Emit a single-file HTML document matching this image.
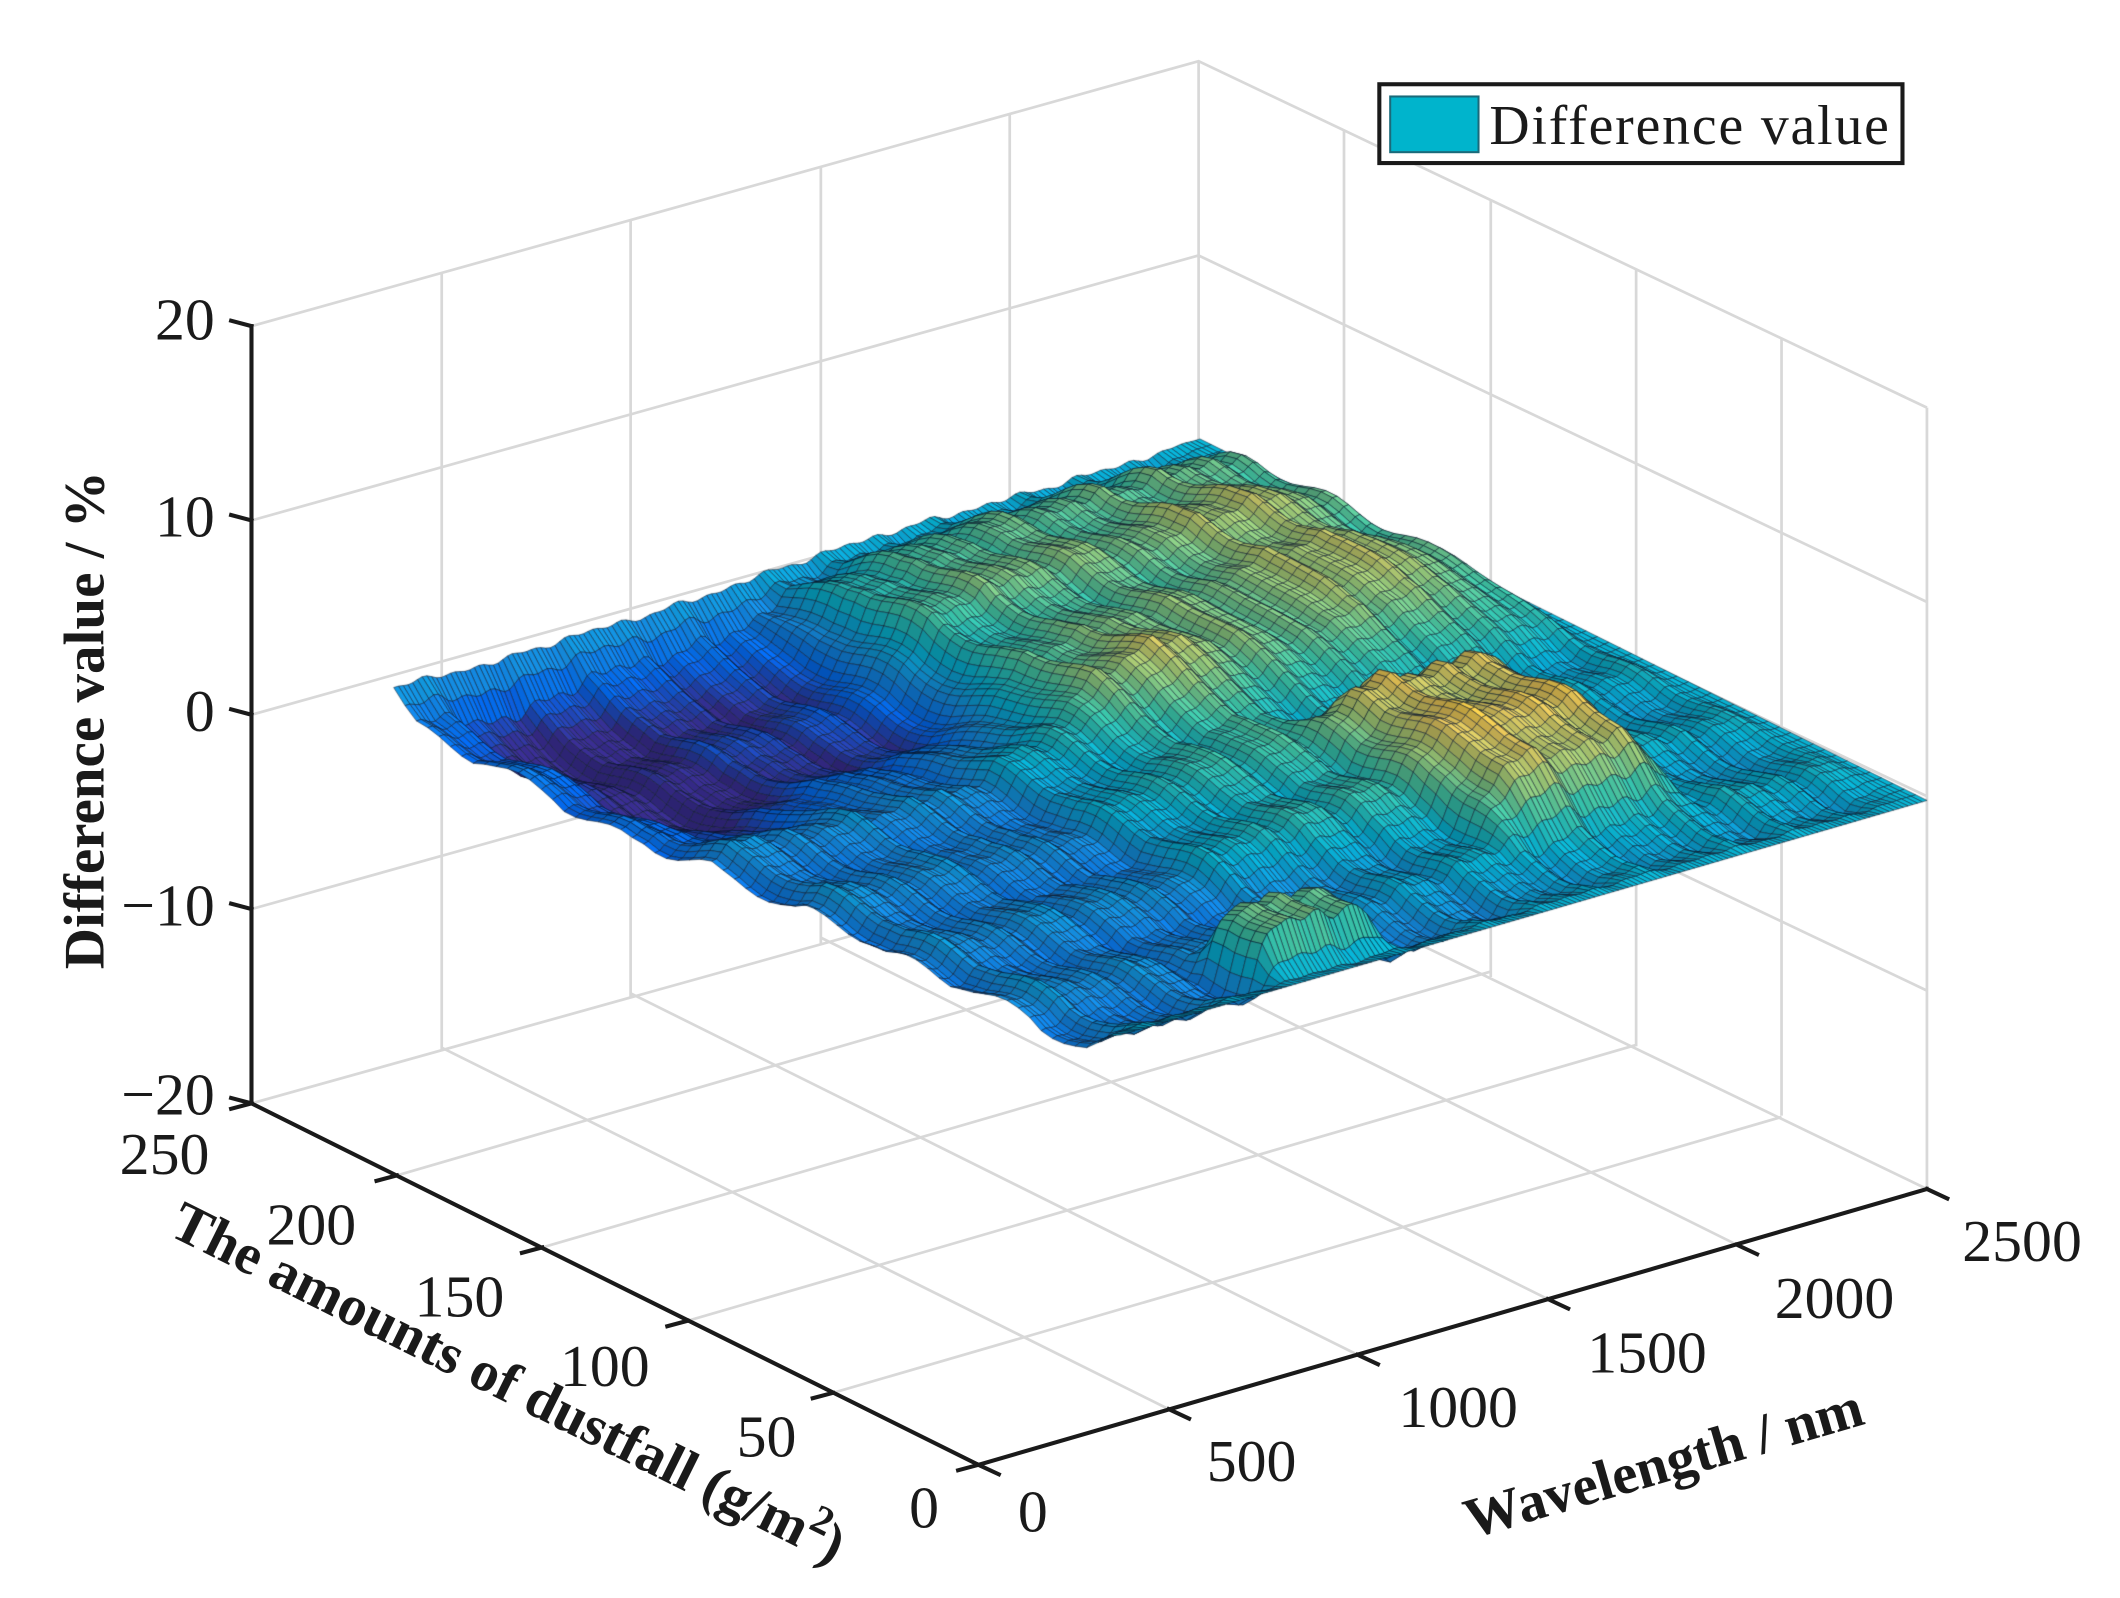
<!DOCTYPE html>
<html><head><meta charset="utf-8">
<style>
html,body{margin:0;padding:0;background:#fff;}
#wrap{position:relative;width:2120px;height:1598px;overflow:hidden;background:#fff;}
svg,canvas{position:absolute;left:0;top:0;}
text{font-family:"Liberation Serif",serif;fill:#1a1a1a;}
</style></head><body>
<div id="wrap">
<svg width="2120" height="1598" viewBox="0 0 1560 1176">
<g stroke="#d8d8d8" stroke-width="2" fill="none">
  <polyline points="185,240 882,45 1418,300"/>
  <line x1="882" y1="45" x2="882" y2="617"/>
  <line x1="1418" y1="300" x2="1418" y2="875"/>
  <polyline points="185,812 883,617 1418,875"/>
  <line x1="325" y1="201" x2="325" y2="773"/>
  <line x1="464" y1="162" x2="464" y2="734"/>
  <line x1="604" y1="123" x2="604" y2="695"/>
  <line x1="743" y1="84" x2="743" y2="656"/>
  <line x1="185" y1="383" x2="882" y2="188"/>
  <line x1="185" y1="526" x2="882" y2="331"/>
  <line x1="185" y1="669" x2="882" y2="474"/>
  <line x1="989" y1="96" x2="989" y2="668"/>
  <line x1="1097" y1="147" x2="1097" y2="719"/>
  <line x1="1204" y1="198" x2="1204" y2="770"/>
  <line x1="1311" y1="249" x2="1311" y2="821"/>
  <line x1="882" y1="188" x2="1418" y2="443"/>
  <line x1="882" y1="331" x2="1418" y2="586"/>
  <line x1="882" y1="474" x2="1418" y2="729"/>
  <line x1="860" y1="1037" x2="325" y2="771"/>
  <line x1="999" y1="997" x2="464" y2="731"/>
  <line x1="1139" y1="956" x2="604" y2="690"/>
  <line x1="1278" y1="916" x2="743" y2="650"/>
  <line x1="613" y1="1025" x2="1311" y2="822"/>
  <line x1="506" y1="972" x2="1204" y2="769"/>
  <line x1="399" y1="918" x2="1097" y2="715"/>
  <line x1="292" y1="865" x2="990" y2="662"/>
</g>
</svg>
<canvas id="c" width="2120" height="1598"></canvas>
<svg width="2120" height="1598" viewBox="0 0 1560 1176">
<g stroke="#1a1a1a" stroke-width="3" fill="none" stroke-linecap="square">
  <polyline points="185,240 185,812 720,1078 1418,875"/>
  <line x1="185" y1="240" x2="170" y2="236"/>
  <line x1="185" y1="383" x2="170" y2="379"/>
  <line x1="185" y1="526" x2="170" y2="522"/>
  <line x1="185" y1="669" x2="170" y2="665"/>
  <line x1="185" y1="812" x2="170" y2="808"/>
  <line x1="185" y1="812" x2="170" y2="816"/>
  <line x1="292" y1="865" x2="277" y2="869"/>
  <line x1="399" y1="918" x2="384" y2="922"/>
  <line x1="506" y1="972" x2="491" y2="976"/>
  <line x1="613" y1="1025" x2="598" y2="1029"/>
  <line x1="720" y1="1078" x2="705" y2="1082"/>
  <line x1="720" y1="1078" x2="735" y2="1085"/>
  <line x1="860" y1="1037" x2="875" y2="1044"/>
  <line x1="999" y1="997" x2="1014" y2="1004"/>
  <line x1="1139" y1="956" x2="1154" y2="963"/>
  <line x1="1278" y1="916" x2="1293" y2="923"/>
  <line x1="1418" y1="875" x2="1433" y2="882"/>
</g>
<g font-size="44" text-anchor="end">
  <text x="158" y="250">20</text>
  <text x="158" y="395">10</text>
  <text x="158" y="538">0</text>
  <text x="158" y="681">−10</text>
  <text x="158" y="820">−20</text>
</g>
<g font-size="44" text-anchor="middle">
  <text x="121" y="864">250</text>
  <text x="229" y="916">200</text>
  <text x="338" y="969">150</text>
  <text x="445" y="1020">100</text>
  <text x="564" y="1072">50</text>
  <text x="680" y="1124">0</text>
  <text x="760" y="1127">0</text>
  <text x="921" y="1090">500</text>
  <text x="1073" y="1050">1000</text>
  <text x="1212" y="1010">1500</text>
  <text x="1350" y="970">2000</text>
  <text x="1488" y="928">2500</text>
</g>
<text x="0" y="0" font-size="42" font-weight="bold" text-anchor="middle" transform="translate(76,530) rotate(-90)">Difference value / %</text>
<text x="0" y="0" font-size="42" font-weight="bold" text-anchor="middle" transform="translate(368,1030) rotate(26.4)">The amounts of dustfall (g/m<tspan font-size="30" dy="-16">2</tspan><tspan dy="16">)</tspan></text>
<text x="0" y="0" font-size="42" font-weight="bold" text-anchor="middle" transform="translate(1228,1090) rotate(-16.2)">Wavelength / nm</text>
<rect x="1015" y="62" width="385" height="58" fill="#fff" stroke="#1a1a1a" stroke-width="3"/>
<rect x="1023" y="71" width="65" height="41" fill="#00b4cc" stroke="#1a6a7a" stroke-width="1.5"/>
<text x="1096" y="106" font-size="41" textLength="294">Difference value</text>
</svg>
</div>
<script>
(function(){
var cv=document.getElementById('c'),ctx=cv.getContext('2d');
var S=2120/1560;ctx.setTransform(S,0,0,S,0,0);
function ss(e0,e1,x){var t=Math.max(0,Math.min(1,(x-e0)/(e1-e0)));return t*t*(3-2*t);}
function box(x,lo,hi,s){s=s||0.05;return ss(lo-s,lo+s,x)*(1-ss(hi-s,hi+s,x));}
function Z(a,b){
 var z=-1.4+1.2*ss(0.4,0.7,a);
 z+=-2.0*box(a,0.2,0.52,0.06)*box(b,0.66,0.97,0.05);
 z+=-1.0*box(a,0.15,0.3,0.04)*box(b,0.6,1.0,0.05);
 z+=3.6*box(a,0.66,0.84,0.03)*box(b,0.14,0.4,0.04);
 z+=3.4*box(a,0.33,0.45,0.02)*box(b,0.03,0.12,0.02);
 z+=2.0*box(a,0.52,0.98,0.04)*box(b,0.55,0.93,0.06);
 z+=1.3*box(a,0.44,0.66,0.05)*box(b,0.22,0.6,0.06);
 z+=1.0*box(a,0.56,0.98,0.05)*box(b,0.45,0.6,0.05);
 z+=0.8*box(a,0.8,0.92,0.03)*box(b,0.55,0.85,0.05);
 z+=0.35*Math.sin(a*95)*Math.sin(a*23+1)+0.3*Math.sin(b*47+a*3)+0.2*Math.sin(a*211+b*7);
 z+=0.3*(Math.floor(b*9)%2?0.4:-0.2)*Math.sin(a*13);
 z*=ss(0,0.05,b);
 z*=1-ss(0.96,1.0,a);
 z*=1-0.6*ss(0.97,1.0,b);
 return z;
}
var P=[[0,53,42,135],[0.125,3,99,225],[0.25,20,133,212],[0.375,6,167,198],[0.5,56,185,158],[0.625,146,191,115],[0.75,217,186,86],[0.875,252,206,46],[1,249,251,14]];
function cmap(t){t=Math.max(0,Math.min(1,t));for(var i=1;i<P.length;i++){if(t<=P[i][0]){var p=P[i-1],q=P[i],f=(t-p[0])/(q[0]-p[0]);return [p[1]+(q[1]-p[1])*f,p[2]+(q[2]-p[2])*f,p[3]+(q[3]-p[3])*f];}}return [249,251,14];}
function proj(a,b,z){return [720+698*a-535*b,1078-203*a-266*b-14.3*(z+20)];}
var NA=170,NB=64,a0=0.15;
var G=[];
for(var i=0;i<=NA;i++){G[i]=[];for(var j=0;j<=NB;j++){var a=a0+(1-a0)*i/NA,b=j/NB;G[i][j]=Z(a,b);}}
var quads=[];
for(var i=0;i<NA;i++)for(var j=0;j<NB;j++){var a=a0+(1-a0)*(i+0.5)/NA,b=(j+0.5)/NB;quads.push([203*a+266*b,i,j]);}
quads.sort(function(x,y){return y[0]-x[0];});
ctx.lineWidth=0.6;ctx.strokeStyle='rgba(10,20,40,0.65)';ctx.lineJoin='round';
var da=(1-a0)/NA,db=1/NB;
for(var k=0;k<quads.length;k++){
 var i=quads[k][1],j=quads[k][2];
 var a1=a0+(1-a0)*i/NA,a2=a1+da,b1=j/NB,b2=b1+db;
 var z11=G[i][j],z21=G[i+1][j],z22=G[i+1][j+1],z12=G[i][j+1];
 var zc=(z11+z21+z22+z12)/4;
 var dzda=((z21+z22)-(z11+z12))/2/da,dzdb=((z12+z22)-(z11+z21))/2/db;
 var nx=-dzda*0.05,ny=-dzdb*0.07,nz=1,nl=Math.sqrt(nx*nx+ny*ny+1);
 var L=[0.25,-0.55,0.8];
 var d=(nx*L[0]+ny*L[1]+nz*L[2])/nl;
 var sh=Math.min(1.12,0.82+0.36*Math.max(0,d));
 var c=cmap((zc+3.8)/10);
 var r=Math.min(255,c[0]*sh),g=Math.min(255,c[1]*sh),bl=Math.min(255,c[2]*sh);
 var p1=proj(a1,b1,z11),p2=proj(a2,b1,z21),p3=proj(a2,b2,z22),p4=proj(a1,b2,z12);
 ctx.beginPath();ctx.moveTo(p1[0],p1[1]);ctx.lineTo(p2[0],p2[1]);ctx.lineTo(p3[0],p3[1]);ctx.lineTo(p4[0],p4[1]);ctx.closePath();
 ctx.fillStyle='rgb('+(r|0)+','+(g|0)+','+(bl|0)+')';ctx.fill();ctx.stroke();
}
})();
</script>
</body></html>
